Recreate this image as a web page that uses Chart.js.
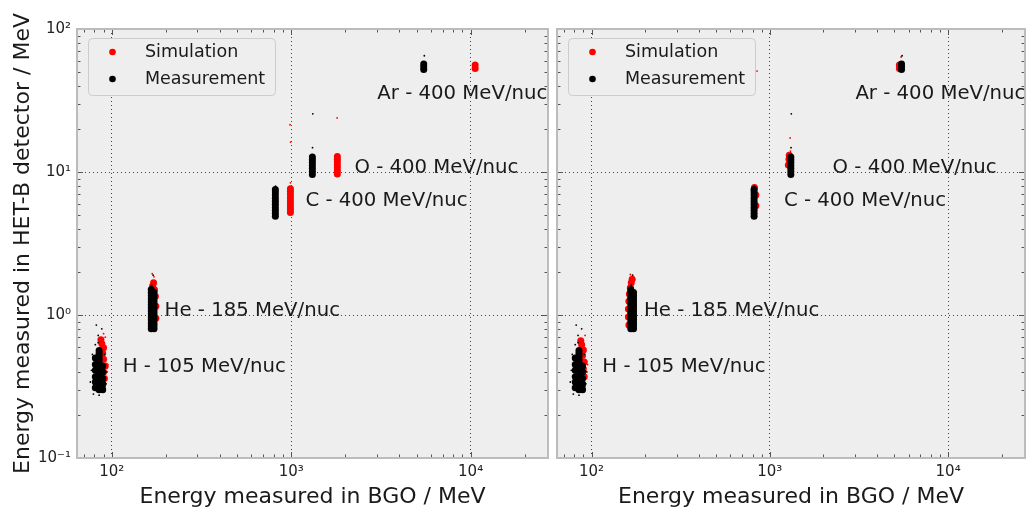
<!DOCTYPE html>
<html>
<head>
<meta charset="utf-8">
<script src="https://cdn.jsdelivr.net/npm/chart.js@4.4.1/dist/chart.umd.min.js"></script>
<style>
  html, body { margin: 0; padding: 0; background: #fff; }
  #wrap { position: relative; width: 1029px; height: 511px; overflow: hidden; }
  #left { position: absolute; left: 0; top: 0; }
  #right { position: absolute; left: 552px; top: 0; }
</style>
</head>
<body>
<div id="wrap">
  <canvas id="left" width="552" height="511"></canvas>
  <canvas id="right" width="477" height="511"></canvas>
</div>
<script>
// x: energy in BGO / MeV, y: energy in HET-B / MeV
const seriesNames = ['Simulation', 'Measurement'];
const ionLabels = ['H - 105 MeV/nuc', 'He - 185 MeV/nuc', 'C - 400 MeV/nuc', 'O - 400 MeV/nuc', 'Ar - 400 MeV/nuc'];
const xTicks = [70, 80, 90, 100, 200, 300, 400, 500, 600, 700, 800, 900,
    1000, 2000, 3000, 4000, 5000, 6000, 7000, 8000, 9000, 10000, 20000];
const yTicks = [0.1, 0.2, 0.3, 0.4, 0.5, 0.6, 0.7, 0.8, 0.9,
    1, 2, 3, 4, 5, 6, 7, 8, 9, 10, 20, 30, 40, 50, 60, 70, 80, 90, 100];

// measured clusters (same beam data in both panels)
const measH = [
    [81, 0.31], [81, 0.34], [81, 0.37], [81, 0.41], [81, 0.45], [81, 0.50],
    [85, 0.30], [85, 0.315], [85, 0.33], [85, 0.35], [85, 0.365], [85, 0.385], [85, 0.40], [85, 0.42], [85, 0.44], [85, 0.465], [85, 0.49], [85, 0.515], [85, 0.54], [85, 0.565],
    [89, 0.30], [89, 0.33], [89, 0.36], [89, 0.40], [89, 0.44]
];
const measHe = [
    [166, 0.80], [166, 0.84], [166, 0.88], [166, 0.925], [166, 0.97], [166, 1.02], [166, 1.07], [166, 1.125], [166, 1.18], [166, 1.24], [166, 1.30], [166, 1.365], [166, 1.435], [166, 1.505],
    [172, 0.80], [172, 0.84], [172, 0.88], [172, 0.925], [172, 0.97], [172, 1.02], [172, 1.07], [172, 1.125], [172, 1.18], [172, 1.24], [172, 1.30], [172, 1.365], [172, 1.435]
];
const measC = [[816, 4.9], [816, 5.15], [816, 5.4], [816, 5.65], [816, 5.95], [816, 6.25], [816, 6.55], [816, 6.9], [816, 7.25], [816, 7.55]];
const measO = [[1312, 9.6], [1312, 10.1], [1312, 10.6], [1312, 11.1], [1312, 11.65], [1312, 12.2], [1312, 12.75]];
const measAr = [[5480, 52.0], [5480, 54.5], [5480, 57.0]];
const measStray = [[76, 0.34], [77, 0.41], [78, 0.53], [79, 0.28], [81, 0.62], [84, 0.64], [84, 0.72], [88, 0.80], [82, 0.85],
    [93, 0.33], [94, 0.40], [85, 0.275], [91, 0.53], [87, 0.58], [170, 1.90], [167, 1.62], [818, 7.95], [1315, 14.8], [1320, 25.5], [5520, 65]];

// simulation, left panel (uncalibrated)
const simLeftH = [[89, 0.32], [91, 0.36], [90, 0.40], [92, 0.44], [90, 0.49], [89, 0.54], [90, 0.59], [88, 0.63], [87, 0.67]];
const simLeftHe = [[169, 1.60], [171, 1.68], [173, 1.50], [175, 1.35], [176, 1.15], [176, 0.95]];
const simLeftC = [[990, 5.2], [990, 5.45], [990, 5.7], [990, 6.0], [990, 6.3], [990, 6.6], [990, 6.95], [990, 7.3], [990, 7.65]];
const simLeftO = [[1808, 9.7], [1808, 10.2], [1808, 10.7], [1808, 11.2], [1808, 11.75], [1808, 12.3], [1808, 12.85]];
const simLeftAr = [[10600, 53.0], [10600, 56.0]];
const simLeftStray = [[92, 0.70], [90, 0.74], [95, 0.45], [172, 1.85], [168, 1.95], [990, 8.4], [985, 21.4], [992, 16.2], [1803, 23.9]];

// simulation, right panel (calibrated)
const simRightH = [[89, 0.32], [91, 0.37], [90, 0.42], [91, 0.47], [89, 0.52], [90, 0.57], [88, 0.62], [87, 0.66]];
const simRightHe = [[162, 0.85], [161, 0.97], [161, 1.10], [162, 1.25], [163, 1.40], [165, 1.55], [167, 1.68], [169, 1.78]];
const simRightC = [[820, 7.8], [835, 6.9], [835, 5.8]];
const simRightO = [[1280, 12.3], [1285, 13.1], [1270, 11.2]];
const simRightAr = [[5330, 53.0], [5330, 56.0]];
const simRightStray = [[92, 0.72], [95, 0.45], [165, 1.92], [1300, 17.3], [1305, 14.0], [5450, 63.7], [848, 50.8]];

// where the ion names sit (data coordinates, left edge / vertical centre)
const ionAnchors = [[115, 0.433], [197, 1.065], [1200, 6.26], [2250, 10.65], [3020, 35.1]];

const FONT = '"DejaVu Sans", "Liberation Sans", sans-serif';
Chart.defaults.font.family = FONT;

const toPts = arr => arr.map(([x, y]) => ({ x, y }));
const isDecade = v => Math.abs(Math.log10(v) - Math.round(Math.log10(v))) < 1e-9;
const SUP = { '-': '\u207B', '0': '\u2070', '1': '\u00B9', '2': '\u00B2', '3': '\u00B3', '4': '\u2074' };
const decadeLabel = v => '10' + String(Math.round(Math.log10(v))).split('').map(c => SUP[c]).join('');

// background, inward tick marks, frame, ion names, legend
const panelDecor = {
    id: 'panelDecor',
    beforeDraw(chart) {
        const { ctx, chartArea: a } = chart;
        ctx.save();
        ctx.fillStyle = '#eeeeee';
        ctx.fillRect(a.left, a.top, a.right - a.left, a.bottom - a.top);
        ctx.restore();
    },
    afterDatasetsDraw(chart) {
        const { ctx, chartArea: a, scales } = chart;
        ctx.save();
        ctx.strokeStyle = '#555';
        ctx.lineWidth = 1;
        ctx.beginPath();
        scales.x.ticks.forEach(t => {
            const px = Math.round(scales.x.getPixelForValue(t.value)) + 0.5;
            const len = t.major ? 6 : 3.5;
            ctx.moveTo(px, a.bottom); ctx.lineTo(px, a.bottom - len);
            ctx.moveTo(px, a.top); ctx.lineTo(px, a.top + len);
        });
        scales.y.ticks.forEach(t => {
            const py = Math.round(scales.y.getPixelForValue(t.value)) + 0.5;
            const len = t.major ? 6 : 3.5;
            ctx.moveTo(a.left, py); ctx.lineTo(a.left + len, py);
            ctx.moveTo(a.right, py); ctx.lineTo(a.right - len, py);
        });
        ctx.stroke();
        ctx.strokeStyle = '#bcbcbc';
        ctx.lineWidth = 2;
        ctx.strokeRect(a.left, a.top, a.right - a.left, a.bottom - a.top);
        ctx.restore();
    },
    afterDraw(chart) {
        const { ctx, chartArea: a, scales } = chart;
        ctx.save();
        // ion names
        ctx.font = '19.7px ' + FONT;
        ctx.fillStyle = '#1a1a1a';
        ctx.textAlign = 'left';
        ctx.textBaseline = 'middle';
        ionLabels.forEach((txt, i) => {
            const [x, y] = ionAnchors[i];
            ctx.fillText(txt, scales.x.getPixelForValue(x), scales.y.getPixelForValue(y));
        });
        // legend box
        const lx = a.left + 11, ly = a.top + 9, w = 187, h = 57;
        ctx.beginPath();
        ctx.roundRect(lx + 0.5, ly + 0.5, w, h, 4);
        ctx.fillStyle = '#eeeeee';
        ctx.fill();
        ctx.strokeStyle = '#cccccc';
        ctx.lineWidth = 1;
        ctx.stroke();
        ctx.font = '17.5px ' + FONT;
        chart.data.datasets.slice(0, 2).forEach((ds, i) => {
            const cy = ly + 14 + i * 27;
            ctx.beginPath();
            ctx.arc(lx + 24.5, cy, 3.3, 0, Math.PI * 2);
            ctx.fillStyle = ds.backgroundColor;
            ctx.fill();
            ctx.fillStyle = '#1a1a1a';
            ctx.fillText(ds.label, lx + 57, cy);
        });
        ctx.restore();
    }
};

function makePanel(canvasId, simCore, simStray, showY) {
    const measCore = [...measH, ...measHe, ...measC, ...measO, ...measAr];
    return new Chart(document.getElementById(canvasId), {
        type: 'scatter',
        data: {
            datasets: [
                { label: seriesNames[0], data: toPts(simCore), backgroundColor: '#ff0000', pointRadius: 3.5, pointBorderWidth: 0, order: 3 },
                { label: seriesNames[1], data: toPts(measCore), backgroundColor: '#000000', pointRadius: 3.5, pointBorderWidth: 0, order: 1 },
                { label: 'sim-stray', data: toPts(simStray), backgroundColor: '#ff0000', pointRadius: 0.9, pointBorderWidth: 0, order: 4 },
                { label: 'meas-stray', data: toPts(measStray), backgroundColor: '#000000', pointRadius: 0.9, pointBorderWidth: 0, order: 2 }
            ]
        },
        options: {
            responsive: false,
            animation: false,
            devicePixelRatio: 1,
            events: [],
            layout: { padding: { top: 29, right: showY ? 3 : 1, left: 0, bottom: 0 } },
            plugins: { legend: { display: false }, tooltip: { enabled: false } },
            scales: {
                x: {
                    type: 'logarithmic',
                    min: 64, max: 27000,
                    afterBuildTicks: s => { s.ticks = xTicks.map(v => ({ value: v, major: isDecade(v) })); },
                    afterFit: s => { s.height = 53; },
                    ticks: {
                        autoSkip: false, maxRotation: 0, padding: 5, color: '#222',
                        font: { size: 15 },
                        callback: v => isDecade(v) ? decadeLabel(v) : ''
                    },
                    grid: { drawTicks: false, lineWidth: 1, color: c => (c.tick && c.tick.major) ? '#444' : 'rgba(0,0,0,0)' },
                    border: { display: false, dash: [1, 3] },
                    title: { display: true, text: 'Energy measured in BGO / MeV', color: '#1a1a1a', font: { size: 22 }, padding: { top: 4, bottom: 1 } }
                },
                y: {
                    type: 'logarithmic',
                    min: 0.1, max: 100,
                    afterBuildTicks: s => { s.ticks = yTicks.map(v => ({ value: v, major: isDecade(v) })); },
                    afterFit: s => { s.width = showY ? 77 : 5; },
                    ticks: {
                        display: showY, autoSkip: false, padding: 6, color: '#222',
                        font: { size: 15 },
                        callback: v => isDecade(v) ? decadeLabel(v) : ''
                    },
                    grid: { drawTicks: false, lineWidth: 1, color: c => (c.tick && c.tick.major) ? '#444' : 'rgba(0,0,0,0)' },
                    border: { display: false, dash: [1, 3] },
                    title: { display: showY, text: 'Energy measured in HET-B detector / MeV', color: '#1a1a1a', font: { size: 22 }, padding: { top: 10, bottom: 4 } }
                }
            }
        },
        plugins: [panelDecor]
    });
}

makePanel('left', [...simLeftH, ...simLeftHe, ...simLeftC, ...simLeftO, ...simLeftAr], simLeftStray, true);
makePanel('right', [...simRightH, ...simRightHe, ...simRightC, ...simRightO, ...simRightAr], simRightStray, false);
</script>
</body>
</html>
